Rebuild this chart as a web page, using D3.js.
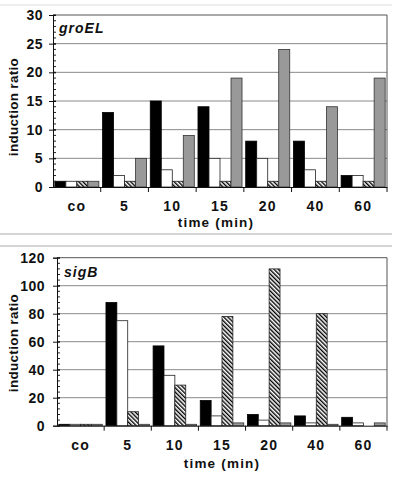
<!DOCTYPE html>
<html><head><meta charset="utf-8">
<script src="https://cdn.jsdelivr.net/npm/d3@7"></script>
<style>
html,body{margin:0;padding:0;background:#fff;}
svg{display:block;}
text{font-family:Arial,"Liberation Sans",sans-serif;font-weight:bold;fill:#111;}
</style></head>
<body>
<svg id="c" width="400" height="477"></svg>
<script>
const categories = ["co","5","10","15","20","40","60"];
const seriesNames = ["s1","s2","s3","s4"];
// groEL induction ratios (black, white, hatched, grey)
const groEL_black   = [1,13,15,14,8,8,2];
const groEL_white   = [1,2,3,5,5,3,2];
const groEL_hatched = [1,1,1,1,1,1,1];
const groEL_grey    = [1,5,9,19,24,14,19];
// sigB induction ratios
const sigB_black   = [1,88,57,18,8,7,6];
const sigB_white   = [1,75,36,7,4,2,2];
const sigB_hatched = [1,10,29,78,112,80,0];
const sigB_grey    = [1,1,1,2,2,1,2];
const groEL_ticks = [0,5,10,15,20,25,30];
const sigB_ticks  = [0,20,40,60,80,100,120];

const svg = d3.select("#c");
const defs = svg.append("defs");
const pat = defs.append("pattern").attr("id","hatch").attr("patternUnits","userSpaceOnUse")
  .attr("width",3).attr("height",3).attr("patternTransform","rotate(-45)");
pat.append("rect").attr("width",3).attr("height",3).attr("fill","#fff");
pat.append("rect").attr("width",1.4).attr("height",3).attr("fill","#000");

// separator lines
[[5,"#ddd"],[234,"#aaa"],[246,"#aaa"]].forEach(([y,c])=>{
  svg.append("line").attr("x1",0).attr("x2",392).attr("y1",y).attr("y2",y).attr("stroke",c).attr("stroke-width",1);
});

const fills = ["#000","#fff","url(#hatch)","#999"];
const strokes = ["#000","#222","#222","#333"];

function chart(cfg){
  const {x0,x1,yTop,yBot,max,ticks,minorStep,data,label,labelX,labelY,ylabY,xlabY,titleY,titleDx,pad} = cfg;
  const g = svg.append("g");
  const x = d3.scaleBand().domain(categories).range([x0,x1]).paddingInner(0).paddingOuter(0);
  const xs = d3.scaleBand().domain(seriesNames).range([0,x.bandwidth()]).paddingInner(0).paddingOuter(0.167);
  const y = d3.scaleLinear().domain([0,max]).range([yBot,yTop]);
  // gridlines
  g.append("g").selectAll("line").data(ticks.filter(t=>t>0 && t<max)).join("line")
    .attr("x1",x0).attr("x2",x1).attr("y1",d=>y(d)).attr("y2",d=>y(d))
    .attr("stroke","#8a8a8a").attr("stroke-width",1);
  // frame top and right
  g.append("line").attr("x1",x0).attr("x2",x1).attr("y1",yTop).attr("y2",yTop).attr("stroke","#555");
  g.append("line").attr("x1",x1).attr("x2",x1).attr("y1",yTop).attr("y2",yBot).attr("stroke","#555");
  // bars
  const rows = categories.map((c,i)=>({c, v:data.map(s=>s[i])}));
  const grp = g.append("g").selectAll("g").data(rows).join("g").attr("transform",d=>`translate(${x(d.c)},0)`);
  grp.selectAll("rect").data(d=>d.v.map((v,j)=>({v,j}))).join("rect")
    .filter(d=>d.v>0)
    .attr("x",d=>xs(seriesNames[d.j])).attr("width",xs.bandwidth())
    .attr("y",d=>y(d.v)).attr("height",d=>yBot-y(d.v))
    .attr("fill",d=>fills[d.j]).attr("stroke",d=>strokes[d.j]).attr("stroke-width",0.8);
  // minor ticks
  const minor = d3.range(0,max+0.001,minorStep);
  g.append("g").selectAll("line").data(minor).join("line")
    .attr("x1",x0).attr("x2",x0+3).attr("y1",d=>y(d)).attr("y2",d=>y(d)).attr("stroke","#222");
  // y axis
  const ya = g.append("g").attr("transform",`translate(${x0},0)`)
    .call(d3.axisLeft(y).tickValues(ticks).tickSize(4).tickPadding(pad));
  ya.select(".domain").attr("stroke","#111");
  ya.selectAll(".tick line").attr("stroke","#111").attr("x2",-4).attr("x1",3);
  ya.selectAll("text").attr("font-size",14).attr("letter-spacing","0.5px").attr("fill","#111")
    .attr("font-family","Arial, 'Liberation Sans', sans-serif").attr("font-weight","bold");
  // x axis
  const xa = g.append("g").attr("transform",`translate(0,${yBot})`)
    .call(d3.axisBottom(x).tickSize(0).tickPadding(14));
  xa.select(".domain").attr("stroke","#111");
  xa.selectAll("text").attr("font-size",14).attr("letter-spacing","1.2px").attr("fill","#111")
    .attr("font-family","Arial, 'Liberation Sans', sans-serif").attr("font-weight","bold");
  // category boundary ticks
  g.append("g").selectAll("line").data(categories.slice(1).map(c=>x(c)).concat([x1])).join("line")
    .attr("x1",d=>d).attr("x2",d=>d).attr("y1",yBot).attr("y2",yBot+5).attr("stroke","#111");
  // title label inside
  g.append("text").attr("x",labelX).attr("y",labelY).attr("font-size",14).attr("font-style","italic")
    .attr("letter-spacing","1px").text(label);
  // axis titles
  g.append("text").attr("transform",`translate(18,${ylabY}) rotate(-90)`).attr("text-anchor","middle")
    .attr("font-size",13.5).attr("letter-spacing","0.3px").text("induction ratio");
  g.append("text").attr("x",(x0+x1)/2+titleDx).attr("y",titleY).attr("text-anchor","middle")
    .attr("font-size",13.5).attr("letter-spacing","1.2px").text("time (min)");
}

chart({x0:53,x1:387,yTop:15,yBot:187,max:30,ticks:groEL_ticks,minorStep:1,
  data:[groEL_black,groEL_white,groEL_hatched,groEL_grey],label:"groEL",labelX:59,labelY:33,
  ylabY:107,titleY:227,titleDx:-4,pad:6});
chart({x0:57,x1:387,yTop:257.7,yBot:425.7,max:120,ticks:sigB_ticks,minorStep:4,
  data:[sigB_black,sigB_white,sigB_hatched,sigB_grey],label:"sigB",labelX:64,labelY:277,
  ylabY:343,titleY:468,titleDx:0,pad:8});
</script>
</body></html>
